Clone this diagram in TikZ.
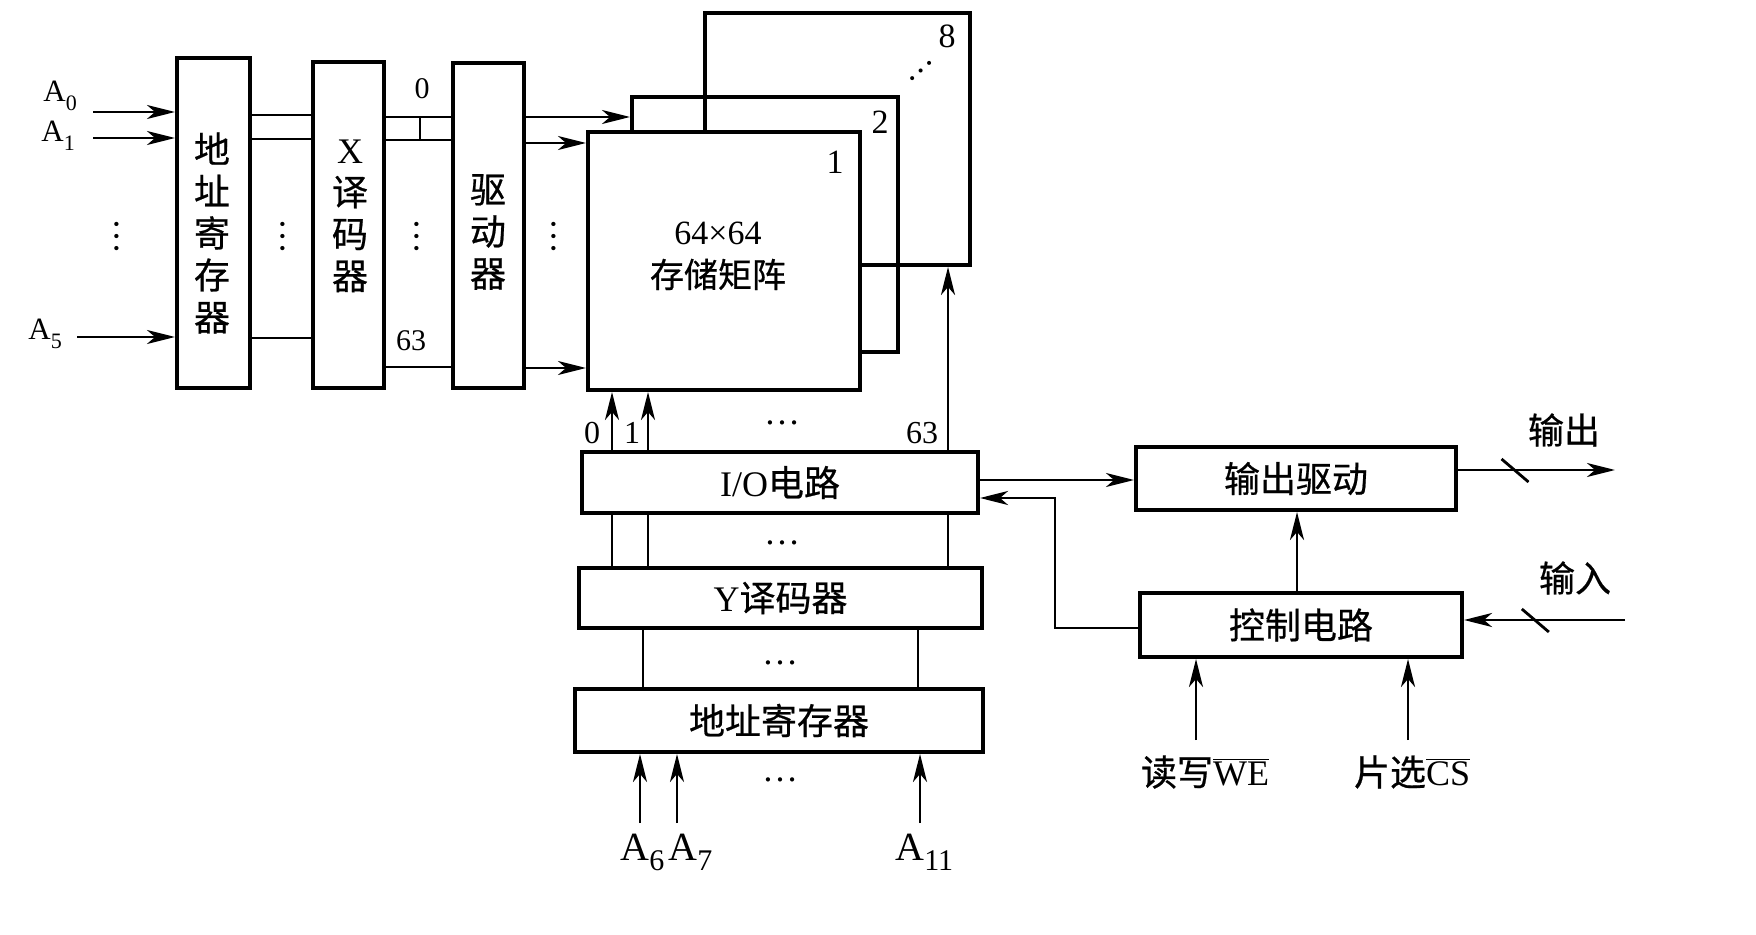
\documentclass[tikz,border=0pt]{standalone}
\usepackage{fontspec}
\setmainfont{Liberation Serif}
\newfontfamily\cjk{Noto Sans CJK SC}[FakeBold=0.6]
\newcommand\zh[1]{{\cjk #1}}
% address label with lowered index
\newcommand\Asmall[1]{A\raisebox{-4.5pt}{\fontsize{11}{11}\selectfont #1}}
\newcommand\Abig[1]{A\raisebox{-5pt}{\fontsize{15}{15}\selectfont #1}}
\usetikzlibrary{arrows.meta}
\begin{document}
\begin{tikzpicture}[x=0.5pt,y=-0.5pt,
  box/.style={draw, line width=2pt, fill=white, inner sep=0pt, align=center,
              font=\fontsize{18}{21}\selectfont},
  board/.style={draw, line width=2pt, inner sep=0pt},
  txt/.style={inner sep=0pt, align=center, font=\fontsize{18}{21}\selectfont},
  wire/.style={line width=1.4pt},
  arr/.style={wire, -{Stealth[length=14pt,width=7pt,inset=4pt]}},
  lbl/.style={inner sep=0pt, font=\fontsize{16}{16}\selectfont},
  zhl/.style={inner sep=0pt, font=\cjk\fontsize{18}{18}\selectfont},
  hdots/.style={inner sep=0pt, font=\fontsize{18}{18}\selectfont},
  vdotsn/.style={hdots, rotate=90}]
\fill[white] (0,0) rectangle (1756,935);
\useasboundingbox (0,0) rectangle (1756,935);

% ---- row (X) path: register, decoder, driver ----
\node[box, minimum width=36.5pt, minimum height=165pt] (regL) at (213.5,223) {};
\node[txt] (regLt) at (212,233) {\zh{地}\\\zh{址}\\\zh{寄}\\\zh{存}\\\zh{器}};
\node[box, minimum width=35.5pt, minimum height=163pt] (xdec) at (348.5,225) {};
\node[txt] (xdect) at (350,216) {X\\\zh{译}\\\zh{码}\\\zh{器}};
\node[box, minimum width=35.5pt, minimum height=162.5pt] (drv) at (488.5,225.5) {};
\node[txt] (drvt) at (488,232) {\zh{驱}\\\zh{动}\\\zh{器}};

% ---- stacked 64x64 memory planes ----
\node[board, minimum width=132.5pt, minimum height=126pt] (b8) at (837.5,139) {};
\node[board, minimum width=133pt, minimum height=127.5pt] (b2) at (765,224.5) {};
\node[board, fill=white, minimum width=136pt, minimum height=129pt] (b1) at (724,261) {};
\node[txt, font=\fontsize{17}{21.5}\selectfont] (b1t) at (718,256) {64×64\\\zh{存储矩阵}};
\node[lbl, font=\fontsize{17}{17}\selectfont] (n1) at (835,162) {1};
\node[lbl, font=\fontsize{17}{17}\selectfont] (n2) at (880,122) {2};
\node[lbl, font=\fontsize{17}{17}\selectfont] (n8) at (947,36) {8};
\node[hdots, rotate=42, font=\fontsize{17}{17}\selectfont] (ndots) at (921,71) {…};

% ---- column (Y) path ----
\node[box, minimum width=198pt, minimum height=30.5pt] (io) at (780,482.5) {I/O\zh{电路}};
\node[box, minimum width=201.5pt, minimum height=30pt] (ydec) at (780.5,598) {Y\zh{译码器}};
\node[box, minimum width=204pt, minimum height=31.5pt] (regB) at (779,720.5) {\zh{地址寄存器}};

% ---- output / control ----
\node[box, minimum width=160pt, minimum height=31.5pt] (outdrv) at (1296,478.5) {\zh{输出驱动}};
\node[box, minimum width=161pt, minimum height=32pt] (ctrl) at (1301,625) {\zh{控制电路}};

% ---- address inputs A0..A5 ----
\node[lbl, anchor=base west, font=\fontsize{15.5}{15.5}\selectfont] (la0) at (43,102) {\Asmall{0}};
\node[lbl, anchor=base west, font=\fontsize{15.5}{15.5}\selectfont] (la1) at (41,142) {\Asmall{1}};
\node[lbl, anchor=base west, font=\fontsize{15.5}{15.5}\selectfont] (la5) at (28,340) {\Asmall{5}};
\coordinate (ra0) at (93,112);
\coordinate (ra1) at (93,138);
\coordinate (ra5) at (77,337);
\draw[arr] (ra0) -- (ra0 -| regL.west);
\draw[arr] (ra1) -- (ra1 -| regL.west);
\draw[arr] (ra5) -- (ra5 -| regL.west);
\node[vdotsn] (vd0) at (117,237) {…};

% register -> X decoder
\foreach \yy in {115,139,338}
  \draw[wire] (regL.east |- 0,\yy) -- (xdec.west |- 0,\yy);
\node[vdotsn] (vd1) at (283,237) {…};

% X decoder -> driver
\foreach \yy in {117,140,367}
  \draw[wire] (xdec.east |- 0,\yy) -- (drv.west |- 0,\yy);
\coordinate (tk) at (420,117);
\draw[wire] (tk) -- (tk |- 0,140);
\node[lbl, font=\fontsize{15}{15}\selectfont] (l0) at (422,89) {0};
\node[lbl, font=\fontsize{15}{15}\selectfont] (l63) at (411,341) {63};
\node[vdotsn] (vd2) at (417,237) {…};

% driver -> memory planes
\draw[arr] (drv.east |- 0,117) -- (b2.west |- 0,117);
\draw[arr] (drv.east |- 0,143) -- (b1.west |- 0,143);
\draw[arr] (drv.east |- 0,368) -- (b1.west |- 0,368);
\node[vdotsn] (vd3) at (554,237) {…};

% I/O -> memory planes
\draw[arr] (io.north -| 612,0) -- (b1.south -| 612,0);
\draw[arr] (io.north -| 648,0) -- (b1.south -| 648,0);
\draw[arr] (io.north -| 948,0) -- (b8.south -| 948,0);
\node[lbl] (c0) at (592,433) {0};
\node[lbl] (c1) at (632,433) {1};
\node[lbl] (c63) at (922,433) {63};
\node[hdots] (hd0) at (782,423) {…};

% Y decoder -> I/O
\foreach \xx in {612,648,948}
  \draw[wire] (ydec.north -| \xx,0) -- (io.south -| \xx,0);
\node[hdots] (hd1) at (782,543) {…};

% register -> Y decoder
\foreach \xx in {643,918}
  \draw[wire] (regB.north -| \xx,0) -- (ydec.south -| \xx,0);
\node[hdots] (hd2) at (780,663) {…};

% address inputs A6..A11
\coordinate (ra6) at (640,823);
\coordinate (ra7) at (677,823);
\coordinate (ra11) at (920,823);
\draw[arr] (ra6) -- (ra6 |- regB.south);
\draw[arr] (ra7) -- (ra7 |- regB.south);
\draw[arr] (ra11) -- (ra11 |- regB.south);
\node[hdots] (hd3) at (780,780) {…};
\node[lbl, anchor=base west, font=\fontsize{20}{20}\selectfont] (la6) at (620,860) {\Abig{6}};
\node[lbl, anchor=base west, font=\fontsize{20}{20}\selectfont] (la7) at (668,860) {\Abig{7}};
\node[lbl, anchor=base west, font=\fontsize{20}{20}\selectfont] (la11) at (895,860) {\Abig{11}};

% I/O <-> output driver and control
\coordinate (yio) at (0,480);
\draw[arr] (io.east |- yio) -- (outdrv.west |- yio);
\coordinate (kk) at (1055,498);
\draw[arr] (ctrl.west |- 0,628) -| (kk) -- (io.east |- kk);
\draw[arr] (ctrl.north -| 1297,0) -- (outdrv.south -| 1297,0);

% data out / data in buses
\coordinate (oe) at (1615,470);
\draw[arr] (outdrv.east |- oe) -- coordinate[pos=0.36] (s1) (oe);
\draw[wire] (s1) +(-13,-11) -- +(14,12);
\node[zhl] (tout) at (1564,430) {输出};
\coordinate (ie) at (1625,620);
\draw[arr] (ie) -- coordinate[pos=0.56] (s2) (ctrl.east |- ie);
\draw[wire] (s2) +(-13,-11) -- +(14,12);
\node[zhl] (tin) at (1575,578) {输入};

% control inputs
\coordinate (we) at (1196,740);
\coordinate (cs) at (1408,740);
\draw[arr] (we) -- (we |- ctrl.south);
\draw[arr] (cs) -- (cs |- ctrl.south);
\node[lbl, font=\fontsize{18}{18}\selectfont] (twe) at (1205,772) {\zh{读写}$\overline{\mbox{WE}}$};
\node[lbl, font=\fontsize{18}{18}\selectfont] (tcs) at (1412,772) {\zh{片选}$\overline{\mbox{CS}}$};
\end{tikzpicture}
\end{document}
